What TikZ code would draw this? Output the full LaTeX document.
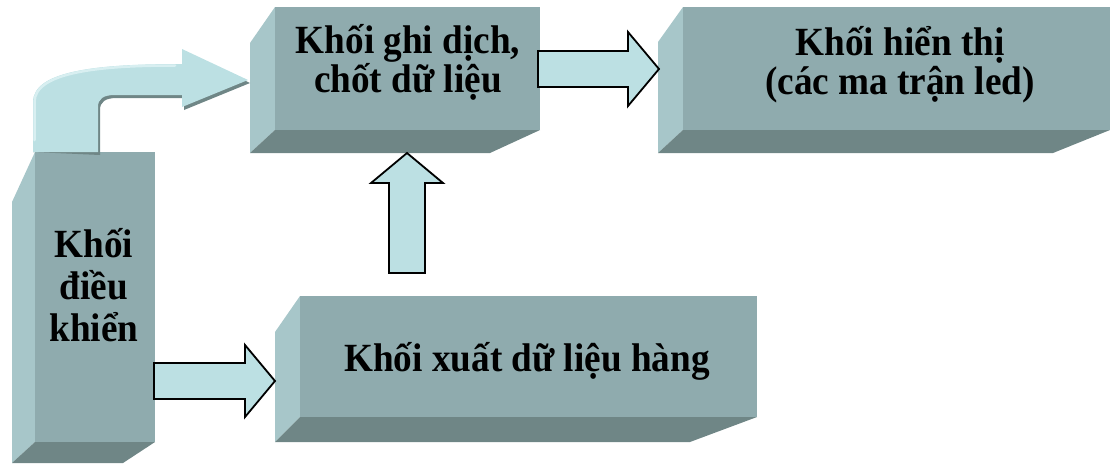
\documentclass[tikz,border=0pt]{standalone}
\usepackage{fontspec}
\setmainfont[FakeStretch=0.93]{Liberation Serif}
\definecolor{frontc}{HTML}{8FABAE}
\definecolor{sidec}{HTML}{A7C6C9}
\definecolor{bottomc}{HTML}{6F8686}
\definecolor{arrowc}{HTML}{BCE0E3}
\definecolor{hilitec}{HTML}{D8EFF1}
% #1 left-face x, #2 front left x, #3 front right x, #4 bottom right x,
% #5 front top y, #6 side slant end y, #7 front bottom y, #8 bottom y
\newcommand\blockthreed[8]{%
  \fill[sidec] (#2,#5) -- (#1,#6) -- (#1,#8) -- (#2,#7) -- cycle;
  \fill[bottomc] (#2,#7) -- (#3,#7) -- (#4,#8) -- (#1,#8) -- cycle;
  \fill[frontc] (#2,#5) rectangle (#3,#7);
}
\tikzset{
  lbl/.style={font=\bfseries\fontsize{40}{39}\selectfont, align=center, anchor=base, inner sep=0pt},
  blockarrow/.style={draw=black, line width=1.8pt, fill=arrowc, line join=miter}
}
\begin{document}
\begin{tikzpicture}[x=1pt,y=-1pt]
\useasboundingbox (0,0) rectangle (1110,463);

% blocks
\blockthreed{250}{275}{540}{490}{7}{43}{130}{153}
\blockthreed{658}{683}{1110}{1053}{7}{42}{130}{153}
\blockthreed{12}{35}{155}{123}{152}{202}{442}{463}
\blockthreed{275}{300}{757}{690}{296}{332}{417}{442}

% labels (base anchor = baseline of the last line)
\node[lbl] (shift) at (408,92) {Khối ghi dịch,\\chốt dữ liệu};
\node[lbl] (disp) at (900,94) {Khối hiển thị\\(các ma trận led)};
\node[lbl, font=\bfseries\fontsize{40}{42}\selectfont] (ctrl) at (94,341) {Khối\\điều\\khiển};
\node[lbl] (row) at (527,371) {Khối xuất dữ liệu hàng};

% named arrow anchors
\coordinate (aA) at (538,69);
\coordinate (aB) at (407,273);
\coordinate (aC) at (154,381);

% straight block arrows
\draw[blockarrow] (aA) ++(0,-18) -- ++(90,0) -- ++(0,-19) -- ++(31,37) -- ++(-31,37) -- ++(0,-19) -- ++(-90,0) -- cycle;
\draw[blockarrow] (aB) ++(-18,0) -- ++(0,-90) -- ++(-18,0) -- ++(36,-30) -- ++(36,30) -- ++(-18,0) -- ++(0,90) -- cycle;
\draw[blockarrow] (aC) ++(0,-18) -- ++(91,0) -- ++(0,-18) -- ++(30,36) -- ++(-30,36) -- ++(0,-18) -- ++(-91,0) -- cycle;

% curved arrow (no outline, shadow + highlight)
\coordinate (cD) at (33,152);
\fill[bottomc, shift={(2,3)}] (cD) -- (33,102) .. controls (33,70) and (100,64) .. (182,64)
  -- (182,49) -- (248,80) -- (182,107) -- (182,95) -- (115,95)
  .. controls (103,95) and (98,99) .. (98,107) -- (98,152) -- cycle;
\fill[arrowc] (cD) -- (33,102) .. controls (33,70) and (100,64) .. (182,64)
  -- (182,49) -- (248,80) -- (182,107) -- (182,95) -- (115,95)
  .. controls (103,95) and (98,99) .. (98,107) -- (98,152) -- cycle;
\draw[hilitec, line width=2.5pt, line cap=round] (34.5,140) -- (34.5,102) .. controls (34.5,72) and (100,65.5) .. (175,65.5);
\end{tikzpicture}
\end{document}
